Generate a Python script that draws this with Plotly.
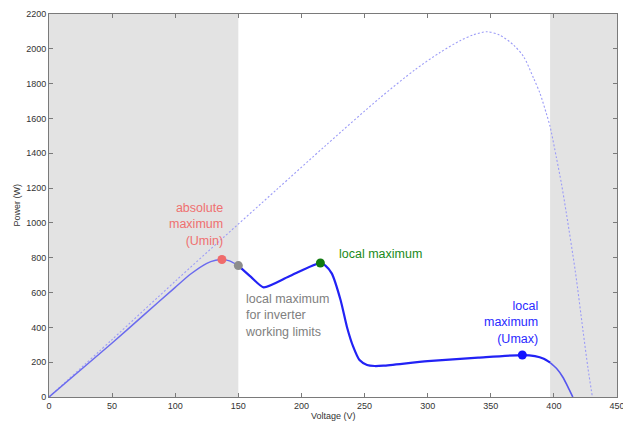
import plotly.graph_objects as go

# Solid curve: shaded PV array (voltage V, power W)
solid_v = [0, 25, 50, 75, 100, 112, 125, 132, 137, 143, 150, 160, 170, 190, 215,
           219, 224, 231, 236, 241, 246, 252, 258, 265, 300, 340, 375, 385,
           392, 397, 402, 407, 411, 415]
solid_p = [0, 155, 310, 470, 630, 705, 768, 785, 790, 782, 755, 690, 630, 692, 770,
           755, 710, 557, 404, 289, 212, 184, 178, 180, 206, 226, 241, 235,
           220, 198, 165, 115, 60, 0]

# Dotted curve: unshaded PV array
dot_v = [0, 50, 100, 138, 180, 220, 262, 290, 310, 326, 336, 347, 357, 368, 376,
         384, 389, 394, 397, 402, 406, 410, 417, 423, 427, 430.5]
dot_p = [0, 330, 665, 915, 1189, 1450, 1717, 1880, 1980, 2048, 2080, 2098, 2079,
         2022, 1955, 1830, 1744, 1629, 1553, 1375, 1225, 1050, 720, 385, 165, 0]

# Inverter working limits (V)
u_min, u_max = 150, 397

# Highlighted points
pt_v = [137, 150, 215, 375]
pt_p = [790, 755, 770, 241]
pt_colors = ["#ef6b6b", "#8c8c8c", "#127a12", "#1414ff"]

x_ticks = list(range(0, 451, 50))
y_ticks = list(range(0, 2201, 200))


def segment(vs, ps, lo, hi):
    out_v, out_p = [], []
    for v, p in zip(vs, ps):
        if lo <= v <= hi:
            out_v.append(v)
            out_p.append(p)
    return out_v, out_p


fig = go.Figure()

fig.add_trace(go.Scatter(x=dot_v, y=dot_p, mode="lines",
                         line=dict(color="#9c9cf7", width=1.1, dash="2px,2px",
                                   shape="spline", smoothing=0.8),
                         hoverinfo="skip"))

segs = [
    (0, u_min, "#6b6bee", 1.5),
    (u_min, u_max, "#2222f5", 2.2),
    (u_max, 450, "#5757ef", 1.6),
]
for lo, hi, col, w in segs:
    sv, sp = segment(solid_v, solid_p, lo, hi)
    fig.add_trace(go.Scatter(x=sv, y=sp, mode="lines",
                             line=dict(color=col, width=w, shape="spline", smoothing=0.6),
                             hoverinfo="skip"))

fig.add_trace(go.Scatter(x=pt_v, y=pt_p, mode="markers",
                         marker=dict(color=pt_colors, size=9, line=dict(width=0)),
                         hoverinfo="skip"))

# shaded zones outside inverter working limits
for x0, x1 in [(0, u_min), (u_max, 450)]:
    fig.add_shape(type="rect", xref="x", yref="paper", x0=x0, x1=x1, y0=0, y1=1,
                  fillcolor="#e3e3e3", line=dict(width=0), layer="below")

font_fam = "Liberation Sans, Arial, sans-serif"
ann = [
    dict(x=139.5, y=990, text="absolute<br>maximum<br>(Umin)", xanchor="right",
         align="right", color="#ef7070"),
    dict(x=228, y=821, text="local maximum", xanchor="left", align="left",
         color="#1a8a1a"),
    dict(x=153.7, y=471, text="local maximum<br>for inverter<br>working limits",
         xanchor="left", align="left", color="#808080"),
    dict(x=389, y=430, text="local<br>maximum<br>(Umax)", xanchor="right",
         align="right", color="#2a2aff"),
]
for a in ann:
    fig.add_annotation(x=a["x"], y=a["y"], text=a["text"], xanchor=a["xanchor"],
                       yanchor="middle", align=a["align"], showarrow=False,
                       font=dict(family=font_fam, size=12.5, color=a["color"]))

fig.add_annotation(x=0.5, y=0, xref="paper", yref="paper", text="Voltage (V)",
                   showarrow=False, yanchor="top", yshift=-12,
                   font=dict(family=font_fam, size=9, color="#333"))
fig.add_annotation(x=0, y=0.5, xref="paper", yref="paper", text="Power (W)",
                   showarrow=False, textangle=-90, xanchor="center", xshift=-33,
                   font=dict(family=font_fam, size=9, color="#333"))

axis_common = dict(showgrid=False, zeroline=False, showline=True, linecolor="#7a7a7a",
                   linewidth=1, mirror="ticks", ticks="inside", ticklen=4,
                   tickcolor="#7a7a7a", automargin=False,
                   tickfont=dict(family=font_fam, size=9, color="#333"))

fig.update_xaxes(range=[0, 450], tickvals=x_ticks, **axis_common)
fig.update_yaxes(range=[0, 2200], tickvals=y_ticks, **axis_common)

fig.update_layout(width=631, height=424, margin=dict(l=41, r=22, t=6, b=35, autoexpand=False),
                  paper_bgcolor="white", plot_bgcolor="white", showlegend=False)

fig.write_html("out.html")
